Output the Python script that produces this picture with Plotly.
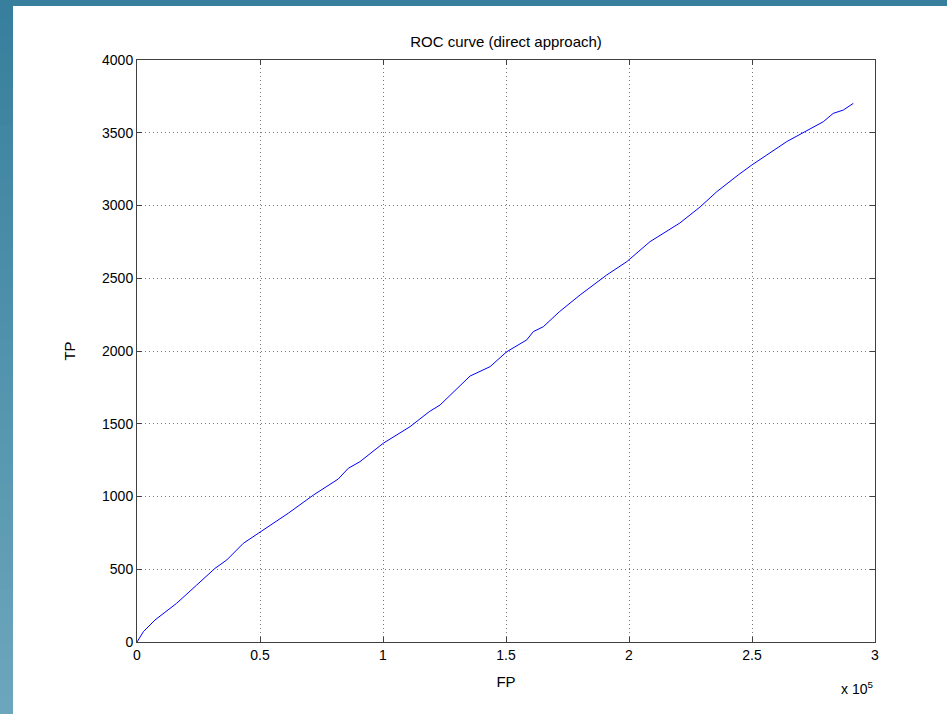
import plotly.graph_objects as go

# Data (FP in raw counts, TP counts)
fp = [0, 2600, 7300, 10700, 16100, 24300, 31700, 36500, 43200, 49300, 55400,
      61500, 71700, 81800, 85900, 90600, 100100, 111000, 118800, 123200,
      135400, 143500, 150300, 158400, 161100, 165200, 171700, 180100, 190900,
      199100, 208500, 215300, 220700, 228900, 235700, 244400, 249900, 256000,
      264100, 271500, 279000, 283000, 287100, 291200]
tp = [0, 71, 151, 197, 266, 392, 506, 564, 678, 747, 816, 885, 1010, 1120,
      1194, 1239, 1366, 1480, 1583, 1629, 1828, 1892, 1995, 2076, 2133, 2167,
      2270, 2385, 2522, 2614, 2751, 2820, 2880, 2990, 3095, 3210, 3278, 3347,
      3439, 3507, 3576, 3633, 3656, 3702]

x_tickvals = [0, 50000, 100000, 150000, 200000, 250000, 300000]
x_ticktext = ["0", "0.5", "1", "1.5", "2", "2.5", "3"]
y_tickvals = [0, 500, 1000, 1500, 2000, 2500, 3000, 3500, 4000]
y_ticktext = ["0", "500", "1000", "1500", "2000", "2500", "3000", "3500", "4000"]

W, H = 947, 714
L, R, T, B = 137, 72, 60, 72
pw, ph = W - L - R, H - T - B


def px_x(p):
    return (p - L) / pw


def px_y(p):
    return 1 - (p - T) / ph


fig = go.Figure()
fig.add_trace(go.Scatter(x=fp, y=tp, mode="lines",
                         line=dict(color="#0000ff", width=1),
                         showlegend=False, hoverinfo="skip"))

font = "Liberation Sans, Arial, Helvetica, sans-serif"

axis_common = dict(
    showline=True, linecolor="#404040", linewidth=1, mirror="allticks",
    ticks="inside", ticklen=5, tickcolor="#404040",
    showgrid=True, gridcolor="#777777", griddash="1px,3px", gridwidth=1,
    zeroline=False, tickfont=dict(family=font, size=14, color="black"),
)

fig.update_xaxes(range=[0, 300000], tickvals=x_tickvals, ticktext=x_ticktext,
                 title=dict(text="FP", font=dict(family=font, size=15, color="black"), standoff=14),
                 **axis_common)
fig.update_yaxes(range=[0, 4000], tickvals=y_tickvals, ticktext=y_ticktext,
                 title=dict(text="TP", font=dict(family=font, size=15, color="black"), standoff=22),
                 **axis_common)

shapes = []
# slide background strips with a vertical gradient
n = 40
top_c = (55, 127, 157)
bot_c = (108, 166, 188)
for i in range(n):
    t = i / (n - 1)
    c = tuple(int(round(top_c[k] + (bot_c[k] - top_c[k]) * t)) for k in range(3))
    y0 = i * H / n
    y1 = (i + 1) * H / n + 1
    shapes.append(dict(type="rect", xref="paper", yref="paper",
                       x0=px_x(0), x1=px_x(13), y0=px_y(y1), y1=px_y(y0),
                       fillcolor="rgb(%d,%d,%d)" % c, line=dict(width=0), layer="below"))
shapes.append(dict(type="rect", xref="paper", yref="paper",
                   x0=px_x(0), x1=px_x(W), y0=px_y(6), y1=px_y(0),
                   fillcolor="rgb(%d,%d,%d)" % top_c, line=dict(width=0), layer="below"))

fig.update_layout(
    width=W, height=H,
    margin=dict(l=L, r=R, t=T, b=B),
    paper_bgcolor="white", plot_bgcolor="white",
    title=dict(text="ROC curve (direct approach)", x=px_x(506), xref="paper",
               xanchor="center", y=1 - 42 / H, yanchor="middle",
               font=dict(family=font, size=15, color="black")),
    shapes=shapes,
    annotations=[dict(text="x 10<sup>5</sup>", xref="paper", yref="paper",
                      x=px_x(875), y=px_y(688), xanchor="right", yanchor="middle",
                      showarrow=False, font=dict(family=font, size=14, color="black"))],
)

fig.write_html("out.html", config={"displayModeBar": False},
               post_script="document.body.style.margin='0';document.body.style.overflow='hidden';")
